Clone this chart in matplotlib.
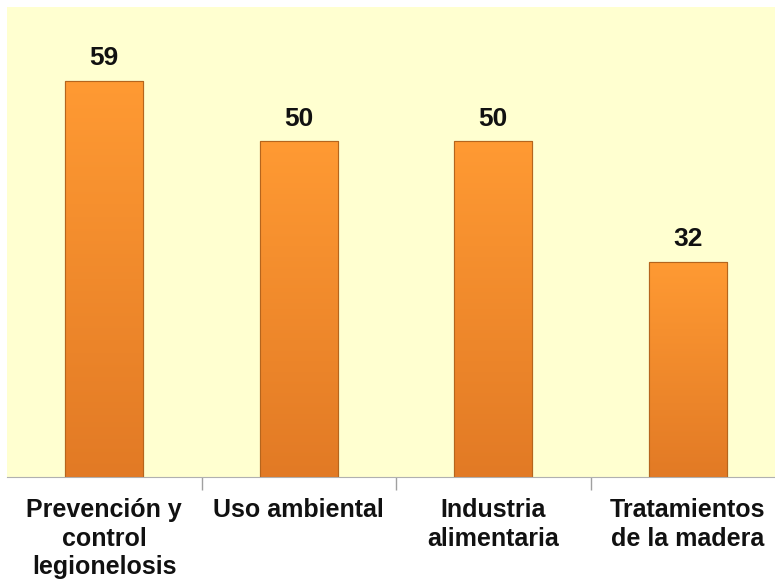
import numpy as np
import matplotlib
matplotlib.use("Agg")
import matplotlib.pyplot as plt
from matplotlib.colors import LinearSegmentedColormap

# datos
categorias = ["Prevención y\ncontrol\nlegionelosis", "Uso ambiental",
              "Industria\nalimentaria", "Tratamientos\nde la madera"]
valores = [59, 50, 50, 32]

plt.rcParams['font.family'] = ['Liberation Sans', 'DejaVu Sans']

fig = plt.figure(figsize=(7.75, 5.79), dpi=100)
ax = fig.add_axes([7 / 775, 1 - 477 / 579, 778 / 775, 470 / 579])
ax.set_facecolor('#FFFFD0')

x = np.arange(len(valores))
bars = ax.bar(x, valores, width=0.4, color='#F39129', edgecolor='#B5651D', linewidth=0.8, zorder=2)

# degradado naranja en cada barra
cmap = LinearSegmentedColormap.from_list('naranja', ['#E27A25', '#FF9A33'])
grad = np.linspace(0, 1, 256).reshape(-1, 1)
for b in bars:
    x0, w, h = b.get_x(), b.get_width(), b.get_height()
    im = ax.imshow(grad, cmap=cmap, aspect='auto', origin='lower',
                   extent=[x0, x0 + w, 0, h], zorder=2.5)
    im.set_clip_path(b)
    ax.add_patch(plt.Rectangle((x0, 0), w, h, fill=False, edgecolor='#B5651D', linewidth=0.8, zorder=3))
    ax.text(x0 + w / 2, h + 1.6, str(int(h)), ha='center', va='bottom',
            fontsize=19, fontweight='bold', color='#111111')

ax.set_xlim(-0.5, len(valores) - 0.5)
ax.set_ylim(0, 70)
ax.set_yticks([])
ax.set_xticks(x)
ax.set_xticklabels(categorias, fontsize=18, fontweight='bold', color='#111111', linespacing=1.25)
ax.tick_params(axis='x', length=0, pad=15)
ax.set_xticks(np.arange(0.5, len(valores) - 0.5), minor=True)
ax.tick_params(axis='x', which='minor', length=9, color='#A0A0A0', width=1)

for s in ['top', 'right', 'left']:
    ax.spines[s].set_visible(False)
ax.spines['bottom'].set_color('#B0B0B0')

fig.savefig('out.png', dpi=100)
